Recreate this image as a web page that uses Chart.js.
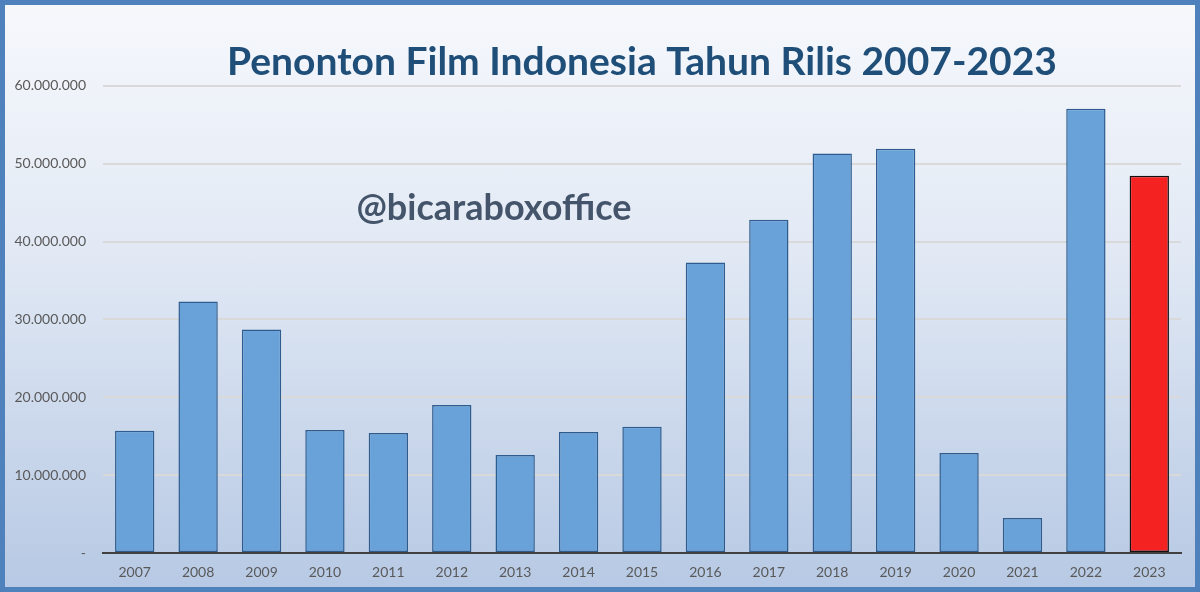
<!DOCTYPE html>
<html>
<head>
<meta charset="utf-8">
<script src="https://cdn.jsdelivr.net/npm/chart.js@4"></script>
<style>
  html, body { margin: 0; padding: 0; }
  #frame {
    width: 1200px; height: 592px; box-sizing: border-box;
    border: 5px solid #4f81bd;
    background: linear-gradient(to bottom, #f6f8fc 0%, #e3eaf5 40%, #b7c9e4 100%);
  }
  #chart { display: block; }
</style>
</head>
<body>
<div id="frame"><canvas id="chart" width="1190" height="582"></canvas></div>
<script>
const years = ["2007","2008","2009","2010","2011","2012","2013","2014","2015","2016","2017","2018","2019","2020","2021","2022","2023"];
const viewers = [15700000, 32300000, 28700000, 15800000, 15400000, 19000000, 12600000, 15550000, 16200000, 37300000, 42800000, 51300000, 51900000, 12850000, 4500000, 57050000, 48450000];
const yTicks = [0, 10000000, 20000000, 30000000, 40000000, 50000000, 60000000];

const blue = "#68a2d8";
const red = "#f52222";

// watermark inside plot
const watermark = {
    id: "watermark",
    afterDatasetsDraw(chart) {
        const ctx = chart.ctx;
        ctx.save();
        ctx.font = "bold 36px Lato";
        ctx.fillStyle = "#44546a";
        ctx.textAlign = "center";
        ctx.textBaseline = "middle";
        ctx.fillText("@bicaraboxoffice", 489, 203);
        ctx.restore();
    }
};

new Chart(document.getElementById("chart"), {
    type: "bar",
    data: {
        labels: years,
        datasets: [{
            data: viewers,
            backgroundColor: years.map(y => y === "2023" ? red : blue),
            borderColor: years.map(y => y === "2023" ? "#111111" : "#2e5c8e"),
            borderWidth: 1.5,
            borderSkipped: false,
            barPercentage: 0.62,
            categoryPercentage: 1
        }]
    },
    options: {
        responsive: false,
        animation: false,
        layout: { padding: { top: 0, right: 14, bottom: 5, left: 0 } },
        plugins: {
            legend: { display: false },
            tooltip: { enabled: false },
            title: {
                display: true,
                fullSize: false,
                text: "Penonton Film Indonesia Tahun Rilis 2007-2023",
                color: "#1f4e79",
                font: { family: "Lato", size: 39, weight: "bold" },
                padding: { top: 34, bottom: 0 }
            }
        },
        scales: {
            x: {
                afterFit(s) { s.height = 29; },
                grid: { display: false, drawTicks: false },
                border: { display: true, color: "#404040", width: 2 },
                ticks: { color: "#595959", font: { family: "Lato", size: 14 }, padding: 11 }
            },
            y: {
                min: 0,
                max: 60000000,
                afterFit(s) { s.width = 98; },
                afterBuildTicks(s) { s.ticks = yTicks.map(v => ({ value: v })); },
                grid: { color: "#d9d9d9", lineWidth: 2, drawTicks: false },
                border: { display: false },
                ticks: {
                    color: "#595959",
                    font: { family: "Lato", size: 14 },
                    padding: 17,
                    callback: v => v === 0 ? "-" : v.toLocaleString("de-DE")
                }
            }
        }
    },
    plugins: [watermark]
});
</script>
</body>
</html>
